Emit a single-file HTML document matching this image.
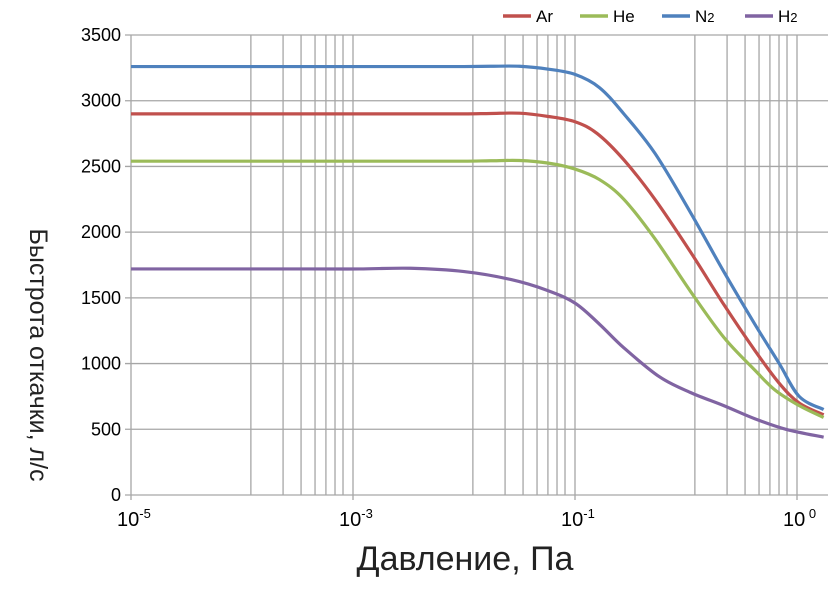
<!DOCTYPE html>
<html><head><meta charset="utf-8"><style>
body{margin:0;background:#fff;}
svg{display:block;font-family:"Liberation Sans","DejaVu Sans",sans-serif;}
</style></head><body>
<svg id="chart" width="829" height="590"></svg>
<script>
// x values in decade units: 0=10^-5, 1=10^-3, 2=10^-1, 3=10^0
const xTickLabels=[["10","-5"],["10","-3"],["10","-1"],["10","0"]];
const yTicks=[0,500,1000,1500,2000,2500,3000,3500];
const seriesNames=["Ar","He","N2","H2"];
const colors=["#c0504d","#9bbb59","#4f81bd","#8064a2"];
const xN2=[0,1.3,1.5,1.62,1.75,1.88,2.0,2.11,2.22,2.36,2.52,2.67,2.81,2.92,3.01,3.12];
const yN2=[3260,3260,3260,3262,3262,3240,3200,3100,2900,2600,2150,1700,1300,1000,750,650];
const xAr=[0,1.3,1.5,1.62,1.75,1.88,2.0,2.1,2.22,2.36,2.52,2.67,2.81,2.92,3.01,3.12];
const yAr=[2900,2900,2900,2903,2905,2880,2840,2750,2550,2250,1850,1450,1100,850,700,610];
const xHe=[0,1.3,1.5,1.62,1.75,1.88,2.0,2.11,2.22,2.36,2.52,2.67,2.81,2.9,3.01,3.12];
const yHe=[2540,2540,2540,2543,2545,2525,2480,2400,2250,1950,1550,1200,950,800,680,590];
const xH2=[0,0.8,1.03,1.26,1.5,1.71,1.87,2.0,2.11,2.22,2.38,2.52,2.67,2.81,2.95,3.12];
const yH2=[1720,1720,1720,1725,1700,1640,1560,1460,1300,1120,900,780,680,580,500,440];
const L=131,R=825,T=35,B=495,DEC=222;
const X=u=>L+u*DEC, Y=v=>B-(v/3500)*(B-T);
const NS="http://www.w3.org/2000/svg";
const svg=document.getElementById('chart');
function mk(t,a,p){const e=document.createElementNS(NS,t);for(const k in a)e.setAttribute(k,a[k]);(p||svg).appendChild(e);return e;}
const minor=[0.54,0.685,0.766,0.829,0.878,0.919,0.955];
const grid=mk('g',{stroke:'#a6a6a6','stroke-width':1.3});


for(let d=0;d<4;d++){
  mk('line',{x1:X(d),x2:X(d),y1:T,y2:B+5},grid);
  if(d<3) minor.forEach(f=>mk('line',{x1:X(d+f),x2:X(d+f),y1:T,y2:B},grid));
}
yTicks.forEach(v=>{mk('line',{x1:L-6,x2:R+3,y1:Y(v),y2:Y(v)},grid);
  const t=mk('text',{x:L-10,y:Y(v)+6,'text-anchor':'end','font-size':18,fill:'#000'});t.textContent=v;
  
  });
xTickLabels.forEach((lb,i)=>{const t=mk('text',{x:X(i)-14,y:526,'font-size':20,fill:'#000'});
  
  
  t.innerHTML=lb[0]+'<tspan dy="-8" font-size="13">'+(i==3?' ':'')+lb[1]+'</tspan>';});
function path(xs,ys){const p=xs.map((x,i)=>[X(x),Y(ys[i])]);let d='M'+p[0];
  for(let i=0;i<p.length-1;i++){const p0=p[i-1]||p[i],p1=p[i],p2=p[i+1],p3=p[i+2]||p2;
    d+=' C'+(p1[0]+(p2[0]-p0[0])/6)+','+(p1[1]+(p2[1]-p0[1])/6)+' '+(p2[0]-(p3[0]-p1[0])/6)+','+(p2[1]-(p3[1]-p1[1])/6)+' '+p2;}
  return d;}
const data=[[xAr,yAr],[xHe,yHe],[xN2,yN2],[xH2,yH2]];
data.forEach((s,i)=>{const e=mk('path',{d:path(s[0],s[1]),fill:'none',stroke:colors[i],'stroke-width':3.2});
  
  });
const lx=[503,580,662,745];
seriesNames.forEach((n,i)=>{const g=mk('g',{});
  
  
  mk('line',{x1:lx[i],x2:lx[i]+28,y1:16,y2:16,stroke:colors[i],'stroke-width':3.5},g);
  const t=mk('text',{x:lx[i]+33,y:22,'font-size':17,fill:'#000'},g);
  t.innerHTML=n.length>1&&n[1]=='2'?n[0]+'<tspan font-size="13">2</tspan>':n;});
const yt=mk('text',{transform:'translate(30,355) rotate(90)','font-size':25,fill:'#222','text-anchor':'middle',x:0,y:0});
yt.textContent='Быстрота откачки, л/с';


const xt=mk('text',{x:465,y:570,'font-size':34,fill:'#222','text-anchor':'middle'});
xt.textContent='Давление, Па';


</script>
</body></html>
